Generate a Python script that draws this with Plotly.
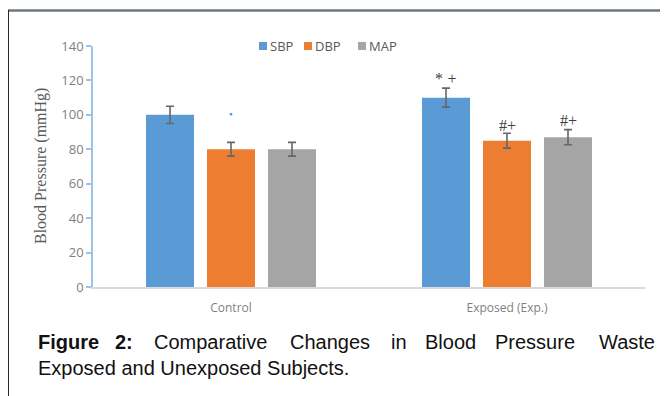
import plotly.graph_objects as go

groups = ["Control", "Exposed (Exp.)"]
series = ["SBP", "DBP", "MAP"]
sbp = [100, 110]
dbp = [80, 85]
map_ = [80, 87]
sbp_err = [5, 5.5]
dbp_err = [4, 4.3]
map_err = [4, 4.4]
colors = ["#5B9BD5", "#ED7D31", "#A5A5A5"]
sig_labels = ["*<span style='font-size:18px'> </span>+", "#+", "#+"]
sig_y = [121.5, 94, 97]
stray_x = ["Control"]
stray_y = [100.4]

# page body has an 8px margin; work in window pixel coordinates
OFF = 8
W, H = 660, 388
L, R, T, B = 85, 23, 38, 109
pw, ph = W - L - R, H - T - B

def px(wx):
    return (wx - OFF - L) / pw

def py(wy):
    return (H - B - (wy - OFF)) / ph

fig = go.Figure()
for name, vals, errs, col in zip(series, [sbp, dbp, map_], [sbp_err, dbp_err, map_err], colors):
    fig.add_trace(go.Bar(
        name=name, x=groups, y=vals, marker=dict(color=col, line=dict(width=0)),
        error_y=dict(type="data", array=errs, color="#666666", thickness=1.6, width=4),
        showlegend=False,
    ))

fig.add_trace(go.Scatter(x=stray_x, y=stray_y, mode="markers", showlegend=False,
                         marker=dict(symbol="square", size=2.5, color="#5B9BD5")))

off = 0.221
for i, (lab, yv) in enumerate(zip(sig_labels, sig_y)):
    fig.add_annotation(x=1 + (i - 1) * off, y=yv, xref="x", yref="y", text=lab, showarrow=False,
                       font=dict(family="Liberation Serif", size=16, color="#404040"))

# legend drawn manually (compact, Excel-like)
leg_x = [259, 304, 358]
for name, col, lx in zip(series, colors, leg_x):
    fig.add_shape(type="rect", xref="paper", yref="paper", x0=px(lx), x1=px(lx + 8),
                  y0=py(50), y1=py(42), fillcolor=col, line=dict(width=0))
    fig.add_annotation(x=px(lx + 9), y=py(46), xref="paper", yref="paper", text=name,
                       showarrow=False, xanchor="left", yanchor="middle",
                       font=dict(family="Open Sans", size=13, color="#595959"))

fig.update_layout(
    width=W, height=H, margin=dict(l=L, r=R, t=T, b=B),
    paper_bgcolor="white", plot_bgcolor="white",
    barmode="group", bargap=0.337, bargroupgap=0.213,
    font=dict(family="Open Sans", color="#595959"),
    showlegend=False,
)
fig.update_yaxes(range=[0, 140], tickvals=[0, 20, 40, 60, 80, 100, 120, 140],
                 showgrid=False, zeroline=False, showline=True, linecolor="#9DC3E6", linewidth=1.5,
                 ticks="outside", ticklen=5, tickcolor="#9DC3E6", tickwidth=1.5,
                 tickfont=dict(size=13, color="#7f7f7f"))
fig.update_xaxes(showgrid=False, showline=True, linecolor="#d9d9d9", linewidth=1.5,
                 ticks="", ticklabelstandoff=9, tickfont=dict(size=12, color="#7f7f7f"))

fig.add_annotation(x=px(41), y=py(166), xref="paper", yref="paper", text="Blood Pressure (mmHg)",
                   textangle=-90, showarrow=False, xanchor="center", yanchor="middle",
                   font=dict(family="Liberation Serif", size=16, color="#595959"))

# frame lines
fig.add_shape(type="line", xref="paper", yref="paper", x0=px(8), x1=px(668), y0=py(10.5), y1=py(10.5),
              line=dict(color="#6b7782", width=2.5))
fig.add_shape(type="line", xref="paper", yref="paper", x0=px(8.5), x1=px(8.5), y0=py(10), y1=py(396),
              line=dict(color="#1f2a38", width=1))

# caption, justified line 1
words1 = [("<b>Figure</b>", 36), ("<b>2:</b>", 113), ("Comparative", 152), ("Changes", 288),
          ("in", 389), ("Blood", 423), ("Pressure", 493), ("Waste", 597)]
for w, x in words1:
    fig.add_annotation(x=px(x), y=py(342), xref="paper", yref="paper", text=w, showarrow=False,
                       xanchor="left", yanchor="middle",
                       font=dict(family="Liberation Sans", size=20, color="#111111"))
fig.add_annotation(x=px(36), y=py(368), xref="paper", yref="paper",
                   text="Exposed and Unexposed Subjects.", showarrow=False,
                   xanchor="left", yanchor="middle",
                   font=dict(family="Liberation Sans", size=20, color="#111111"))

fig.write_html("out.html")
